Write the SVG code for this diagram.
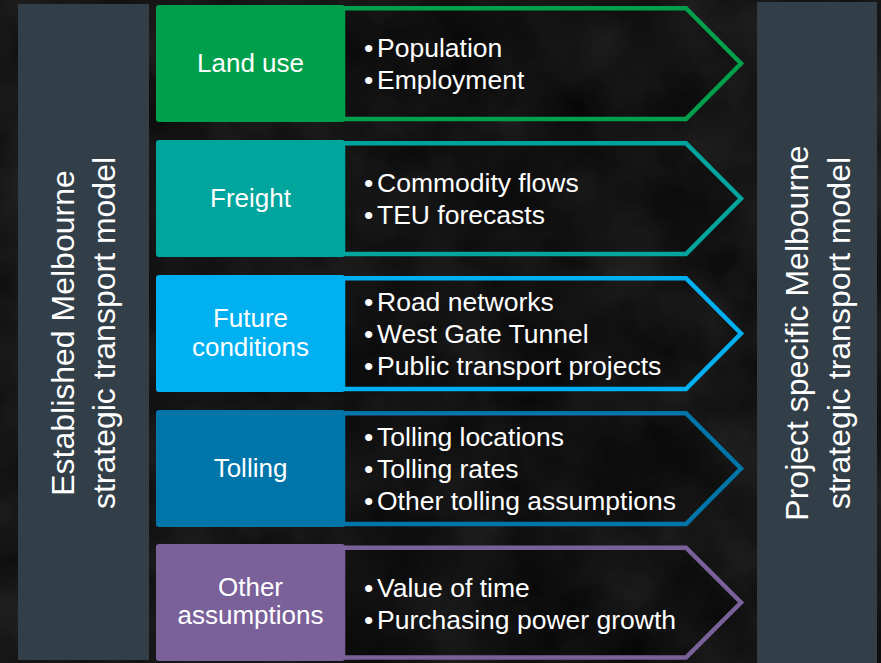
<svg xmlns="http://www.w3.org/2000/svg" width="881" height="663" viewBox="0 0 881 663">
  <defs>
    <filter id="tex" x="0" y="0" width="100%" height="100%" color-interpolation-filters="sRGB">
      <feTurbulence type="fractalNoise" baseFrequency="0.012" numOctaves="4" seed="7"/>
      <feColorMatrix type="matrix" values="0.14 0 0 0 0.015  0.14 0 0 0 0.015  0.14 0 0 0 0.015  0 0 0 0 1"/>
    </filter>
  </defs>
  <style>
    text { font-family: "Liberation Sans", Arial, sans-serif; fill: #ffffff; }
    .panel { fill: #323e48; }
    .ptxt { font-size: 32px; text-anchor: middle; }
    .lbl { font-size: 26px; text-anchor: middle; }
    .bul { font-size: 26.5px; }
    .chev { fill: #000000; fill-opacity: 0.2; stroke-width: 4.5; stroke-linejoin: miter; }
  </style>
  <rect x="0" y="0" width="881" height="663" fill="#141414"/>
  <rect x="0" y="0" width="881" height="663" filter="url(#tex)"/>

  <g id="left-panel">
    <rect class="panel" x="18" y="4" width="131" height="656"/>
    <text class="ptxt" transform="translate(73.5,333) rotate(-90)">Established Melbourne</text>
    <text class="ptxt" transform="translate(114.5,333) rotate(-90)">strategic transport model</text>
  </g>

  <g id="right-panel">
    <rect class="panel" x="757" y="2" width="120" height="661"/>
    <text class="ptxt" transform="translate(808,333) rotate(-90)">Project specific Melbourne</text>
    <text class="ptxt" transform="translate(850,333) rotate(-90)">strategic transport model</text>
  </g>

  <g id="connectors"></g>

  <g id="land-use">
    <path class="chev" stroke="#009f4b" d="M343 8.2 L686 8.2 L741 63.5 L686 119 L343 119 Z"/>
    <rect x="156" y="5" width="189" height="117" rx="3" fill="#009f4b"/>
    <text class="lbl" x="250.5" y="72">Land use</text>
    <text class="bul" y="56.5"><tspan x="364">•</tspan><tspan x="377">Population</tspan></text>
    <text class="bul" y="88.5"><tspan x="364">•</tspan><tspan x="377">Employment</tspan></text>
  </g>

  <g id="freight">
    <path class="chev" stroke="#00a59d" d="M343 143.2 L686 143.2 L741 198.5 L686 254 L343 254 Z"/>
    <rect x="156" y="140" width="189" height="117" rx="3" fill="#00a59d"/>
    <text class="lbl" x="250.5" y="207">Freight</text>
    <text class="bul" y="191.5"><tspan x="364">•</tspan><tspan x="377">Commodity flows</tspan></text>
    <text class="bul" y="223.5"><tspan x="364">•</tspan><tspan x="377">TEU forecasts</tspan></text>
  </g>

  <g id="future-conditions">
    <path class="chev" stroke="#00b0f0" d="M343 278.2 L686 278.2 L741 333.5 L686 389 L343 389 Z"/>
    <rect x="156" y="275" width="189" height="117" rx="3" fill="#00b0f0"/>
    <text class="lbl" x="250.5" y="327">Future</text>
    <text class="lbl" x="250.5" y="355.5">conditions</text>
    <text class="bul" y="310.5"><tspan x="364">•</tspan><tspan x="377">Road networks</tspan></text>
    <text class="bul" y="342.5"><tspan x="364">•</tspan><tspan x="377">West Gate Tunnel</tspan></text>
    <text class="bul" y="374.5"><tspan x="364">•</tspan><tspan x="377">Public transport projects</tspan></text>
  </g>

  <g id="tolling">
    <path class="chev" stroke="#0075aa" d="M343 413.2 L686 413.2 L741 468.5 L686 524 L343 524 Z"/>
    <rect x="156" y="410" width="189" height="117" rx="3" fill="#0075aa"/>
    <text class="lbl" x="250.5" y="477">Tolling</text>
    <text class="bul" y="445.5"><tspan x="364">•</tspan><tspan x="377">Tolling locations</tspan></text>
    <text class="bul" y="477.5"><tspan x="364">•</tspan><tspan x="377">Tolling rates</tspan></text>
    <text class="bul" y="509.5"><tspan x="364">•</tspan><tspan x="377">Other tolling assumptions</tspan></text>
  </g>

  <g id="other-assumptions">
    <path class="chev" stroke="#7a619a" d="M343 547.7 L686 547.7 L741 602.5 L686 657.5 L343 657.5 Z"/>
    <rect x="156" y="544" width="189" height="117" rx="3" fill="#7a619a"/>
    <text class="lbl" x="250.5" y="595.5">Other</text>
    <text class="lbl" x="250.5" y="624">assumptions</text>
    <text class="bul" y="596.5"><tspan x="364">•</tspan><tspan x="377">Value of time</tspan></text>
    <text class="bul" y="628.5"><tspan x="364">•</tspan><tspan x="377">Purchasing power growth</tspan></text>
  </g>
</svg>
